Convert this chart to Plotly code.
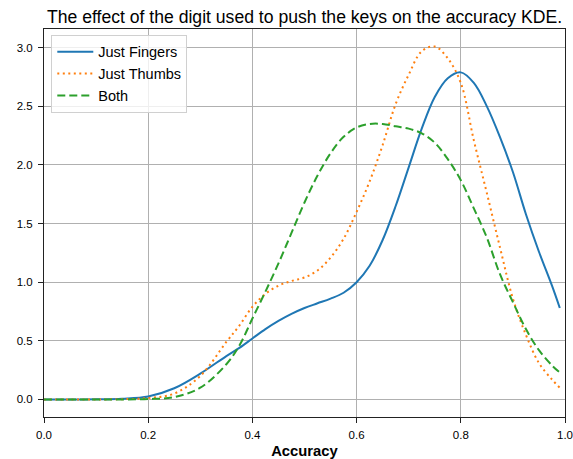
import plotly.graph_objects as go

# Accuracy grid shared by the three density estimates
accuracy = [0.0, 0.05, 0.1, 0.15, 0.2, 0.25, 0.3, 0.35, 0.375, 0.4, 0.425, 0.45, 0.475,
            0.5, 0.525, 0.55, 0.575, 0.6, 0.625, 0.65, 0.675, 0.7, 0.725, 0.75, 0.775,
            0.8, 0.825, 0.85, 0.875, 0.9, 0.925, 0.95, 0.975, 0.99]

just_fingers = [0.0, 0.0, 0.001, 0.006, 0.025, 0.095, 0.22, 0.37, 0.44, 0.52, 0.60, 0.67, 0.73,
                0.78, 0.82, 0.86, 0.91, 1.0, 1.14, 1.36, 1.65, 1.98, 2.31, 2.58, 2.74,
                2.79, 2.70, 2.50, 2.24, 1.94, 1.58, 1.26, 0.97, 0.78]

just_thumbs = [0.0, 0.0, 0.0, 0.002, 0.012, 0.05, 0.20, 0.49, 0.63, 0.79, 0.90, 0.97, 1.01,
               1.04, 1.10, 1.21, 1.37, 1.60, 1.86, 2.17, 2.52, 2.77, 2.97, 3.01, 2.91,
               2.70, 2.21, 1.76, 1.30, 0.86, 0.55, 0.31, 0.17, 0.10]

both = [0.0, 0.0, 0.0, 0.0, 0.003, 0.02, 0.10, 0.30, 0.46, 0.69, 0.92, 1.16, 1.42,
        1.68, 1.91, 2.10, 2.24, 2.32, 2.35, 2.35, 2.33, 2.31, 2.27, 2.19, 2.05,
        1.87, 1.63, 1.38, 1.07, 0.83, 0.60, 0.42, 0.29, 0.23]

series = [
    ("Just Fingers", just_fingers, "#1f77b4", "solid"),
    ("Just Thumbs", just_thumbs, "#ff7f0e", "2px,3.5px"),
    ("Both", both, "#2ca02c", "8px,4px"),
]

FONT = "Liberation Sans, Arial, sans-serif"

fig = go.Figure()
for name, values, color, dash in series:
    fig.add_trace(go.Scatter(
        x=accuracy, y=values, name=name, mode="lines",
        line=dict(color=color, width=2, dash=dash, shape="spline", smoothing=1.0),
    ))

axis_common = dict(
    automargin=False,
    showline=True, linecolor="#222", linewidth=1, mirror=True,
    ticks="outside", ticklen=5, tickcolor="#222", tickwidth=1,
    showgrid=True, gridcolor="#b0b0b0", gridwidth=1, zeroline=False,
    tickfont=dict(family=FONT, size=11.5, color="#000"),
)

fig.update_layout(
    width=573, height=459,
    margin=dict(l=44, r=8, t=29, b=42),
    paper_bgcolor="white", plot_bgcolor="white",
    font=dict(family=FONT, color="#000"),
    title=dict(
        text="The effect of the digit used to push the keys on the accuracy KDE.",
        x=0.5, xref="paper", xanchor="center",
        y=1.0, yref="paper", yanchor="bottom", pad=dict(b=6),
        font=dict(family=FONT, size=17.6, color="#000"),
    ),
    xaxis=dict(
        range=[0, 1.0], tickvals=[0, 0.2, 0.4, 0.6, 0.8, 1.0], tickformat=".1f",
        title=dict(text="<b>Accuracy</b>", font=dict(family=FONT, size=14.8), standoff=5),
        ticklabelstandoff=2,
        **axis_common,
    ),
    yaxis=dict(
        range=[-0.15, 3.16], tickvals=[0, 0.5, 1.0, 1.5, 2.0, 2.5, 3.0], tickformat=".1f",
        ticklabelstandoff=3,
        **axis_common,
    ),
    legend=dict(
        x=0.014, y=0.985, xanchor="left", yanchor="top",
        bgcolor="rgba(255,255,255,0.8)", bordercolor="#d0d0d0", borderwidth=1,
        font=dict(family=FONT, size=14.5, color="#000"),
        itemwidth=36, tracegroupgap=0,
    ),
    showlegend=True,
)

fig.write_html("out.html")
